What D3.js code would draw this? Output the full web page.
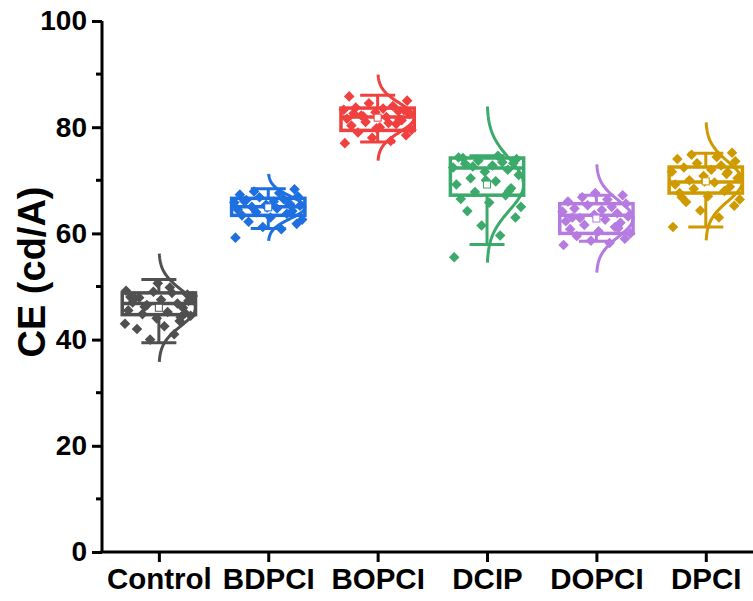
<!DOCTYPE html>
<meta charset="utf-8">
<style>
body { margin: 0; background: #fff; }
text { font-family: "Liberation Sans", Arial, sans-serif; font-weight: bold; fill: #000; }
</style>
<body>
<script src="https://d3js.org/d3.v7.min.js"></script>
<script>

var width = 753,
    height = 601;

// groups and colours
var groups = ["Control", "BDPCI", "BOPCI", "DCIP", "DOPCI", "DPCI"];
var colors = ["#505050", "#1e6fe0", "#f0403f", "#3baa6b", "#b57be0", "#cf9a00"];

// box statistics
var q1        = [44.7, 63.4, 79.4, 67.2, 60.0, 67.6];
var median    = [46.8, 65.0, 81.9, 72.3, 63.4, 69.7];
var q3        = [48.8, 66.6, 83.6, 74.2, 65.6, 72.5];
var whiskerLo = [39.4, 60.9, 77.2, 57.9, 58.5, 61.2];
var whiskerHi = [51.3, 68.4, 86.0, 74.6, 67.2, 75.1];
var means     = [46.0, 64.9, 81.8, 69.2, 62.8, 69.8];
var sds       = [3.4, 2.1, 2.7, 4.9, 3.4, 3.7];

// individual measurements
var controlVals = [49.2, 48.8, 49.0, 48.5, 47.9, 48.2, 47.5, 47.0, 46.8, 46.5, 46.0, 45.5, 45.2, 44.8, 44.5,
                   44.0, 43.5, 43.0, 42.5, 42.0, 41.0, 40.0, 47.3, 48.0, 49.8, 46.2, 45.0, 50.6, 44.2, 47.8];
var bdpciVals   = [59.2, 60.8, 61.2, 61.8, 62.2, 62.6, 63.0, 63.4, 63.7, 64.0, 64.2, 64.5, 64.7, 65.0, 65.2,
                   65.4, 65.6, 65.8, 66.0, 66.3, 66.5, 66.8, 67.0, 67.3, 67.6, 67.9, 68.3, 64.9, 65.5, 66.1];
var bopciVals   = [77.0, 77.4, 78.0, 78.5, 79.0, 79.5, 80.0, 80.3, 80.6, 81.0, 81.3, 81.6, 81.9, 82.2, 82.5,
                   82.8, 83.0, 83.3, 83.5, 83.7, 84.0, 84.5, 85.0, 85.8, 80.8, 82.0, 83.2, 79.8, 81.5, 82.6];
var dcipVals    = [55.5, 59.6, 61.5, 63.0, 64.2, 65.0, 65.8, 66.5, 67.2, 67.8, 68.5, 69.2, 69.8, 70.4, 71.0,
                   71.6, 72.0, 72.4, 72.8, 73.1, 73.4, 73.7, 74.0, 74.3, 74.6, 72.6, 73.2, 70.0, 68.0, 74.2];
var dopciVals   = [57.8, 58.2, 58.6, 59.0, 59.5, 60.0, 60.4, 60.8, 61.2, 61.6, 62.0, 62.3, 62.6, 62.9, 63.2,
                   63.5, 63.8, 64.1, 64.4, 64.7, 65.0, 65.3, 65.6, 66.0, 66.4, 66.8, 67.2, 67.6, 61.0, 63.0];
var dpciVals    = [61.2, 63.0, 64.3, 65.2, 65.9, 66.4, 67.0, 67.6, 68.0, 68.4, 68.8, 69.2, 69.6, 70.0, 70.4,
                   70.8, 71.2, 71.6, 72.0, 72.4, 72.8, 73.2, 73.6, 74.0, 74.4, 74.8, 75.2, 69.8, 71.5, 66.8];
var values = [controlVals, bdpciVals, bopciVals, dcipVals, dopciVals, dpciVals];

var yTicks = [0, 20, 40, 60, 80, 100];
var yMinor = [10, 30, 50, 70, 90];

// fixed horizontal spread of the overlapped points (category units)
var jitter = [-0.30, 0.12, -0.05, 0.26, -0.18, 0.31, 0.02, -0.24, 0.17, -0.11, 0.22, -0.28, 0.08, -0.15, 0.29,
              -0.02, 0.19, -0.31, 0.05, -0.20, 0.14, -0.08, 0.27, -0.26, 0.10, -0.13, 0.24, -0.01, 0.20, -0.22];

var svg = d3.select("body").append("svg")
    .attr("width", width)
    .attr("height", height);

var x = d3.scaleLinear()
    .domain([0.48, 6.45])
    .range([102, 755]);

var y = d3.scaleLinear()
    .domain([0, 100])
    .range([552, 21]);

var boxHalf = 0.335, capHalf = 0.16;

var g = svg.selectAll(".grp")
    .data(groups)
  .enter().append("g")
    .attr("class", "grp");

// whiskers
g.append("line")
    .attr("x1", (d, i) => x(i + 1)).attr("x2", (d, i) => x(i + 1))
    .attr("y1", (d, i) => y(whiskerLo[i])).attr("y2", (d, i) => y(q1[i]))
    .attr("stroke", (d, i) => colors[i]).attr("stroke-width", 3);
g.append("line")
    .attr("x1", (d, i) => x(i + 1)).attr("x2", (d, i) => x(i + 1))
    .attr("y1", (d, i) => y(whiskerHi[i])).attr("y2", (d, i) => y(q3[i]))
    .attr("stroke", (d, i) => colors[i]).attr("stroke-width", 3);
[whiskerLo, whiskerHi].forEach(function(arr) {
    g.append("line")
        .attr("x1", (d, i) => x(i + 1 - capHalf)).attr("x2", (d, i) => x(i + 1 + capHalf))
        .attr("y1", (d, i) => y(arr[i])).attr("y2", (d, i) => y(arr[i]))
        .attr("stroke", (d, i) => colors[i]).attr("stroke-width", 3);
});

// box
g.append("rect")
    .attr("x", (d, i) => x(i + 1 - boxHalf))
    .attr("width", (d, i) => x(i + 1 + boxHalf) - x(i + 1 - boxHalf))
    .attr("y", (d, i) => y(q3[i]))
    .attr("height", (d, i) => y(q1[i]) - y(q3[i]))
    .attr("fill", "none")
    .attr("stroke", (d, i) => colors[i]).attr("stroke-width", 3.5);
g.append("line")
    .attr("x1", (d, i) => x(i + 1 - boxHalf)).attr("x2", (d, i) => x(i + 1 + boxHalf))
    .attr("y1", (d, i) => y(median[i])).attr("y2", (d, i) => y(median[i]))
    .attr("stroke", (d, i) => colors[i]).attr("stroke-width", 3.5);

// normal distribution curve on the right side
g.append("path")
    .attr("fill", "none")
    .attr("stroke", (d, i) => colors[i])
    .attr("stroke-width", 3)
    .attr("d", function(d, i) {
        var m = means[i], s = sds[i];
        var pts = d3.range(-3, 3.001, 0.1).map(t => [
            x(i + 1 + boxHalf * Math.exp(-t * t / 2)),
            y(m + t * s)
        ]);
        return d3.line()(pts);
    });

// points
var diamond = d3.symbol().type(d3.symbolSquare).size(56);
g.each(function(d, i) {
    d3.select(this).selectAll(".pt")
        .data(values[i])
      .enter().append("path")
        .attr("class", "pt")
        .attr("d", diamond)
        .attr("fill", colors[i])
        .attr("transform", (v, j) => "translate(" + x(i + 1 + jitter[j % jitter.length]) + "," + y(v) + ") rotate(45)");
});

// mean marker
g.append("rect")
    .attr("x", (d, i) => x(i + 1) - 3.5)
    .attr("y", (d, i) => y(means[i]) - 3.5)
    .attr("width", 7).attr("height", 7)
    .attr("fill", "#fff")
    .attr("stroke", (d, i) => colors[i]).attr("stroke-width", 1);

// axes
var yAxis = d3.axisLeft(y).tickValues(yTicks).tickSize(10).tickPadding(5);
var yg = svg.append("g").attr("transform", "translate(102,0)").call(yAxis);
yg.selectAll("text").style("font-size", "28px");
yg.select(".domain").attr("stroke-width", 3).attr("d", "M0," + y(100) + "V" + y(0));
yg.selectAll(".tick line").attr("stroke-width", 3);
yg.selectAll(".minor")
    .data(yMinor)
  .enter().append("line")
    .attr("class", "minor")
    .attr("x1", -6).attr("x2", 0)
    .attr("y1", d => y(d)).attr("y2", d => y(d))
    .attr("stroke", "#000").attr("stroke-width", 3);

var xAxis = d3.axisBottom(x).tickValues(d3.range(1, groups.length + 1))
    .tickFormat(d => groups[d - 1]).tickSize(10).tickPadding(6);
var xg = svg.append("g").attr("transform", "translate(0,552)").call(xAxis);
xg.selectAll("text").style("font-size", "29.5px");
xg.select(".domain").attr("stroke-width", 3).attr("d", "M100.5,0H753");
xg.selectAll(".tick line").attr("stroke-width", 3);

svg.append("text")
    .attr("transform", "translate(45,272) rotate(-90)")
    .attr("text-anchor", "middle")
    .style("font-size", "38px")
    .text("CE (cd/A)");

</script>
